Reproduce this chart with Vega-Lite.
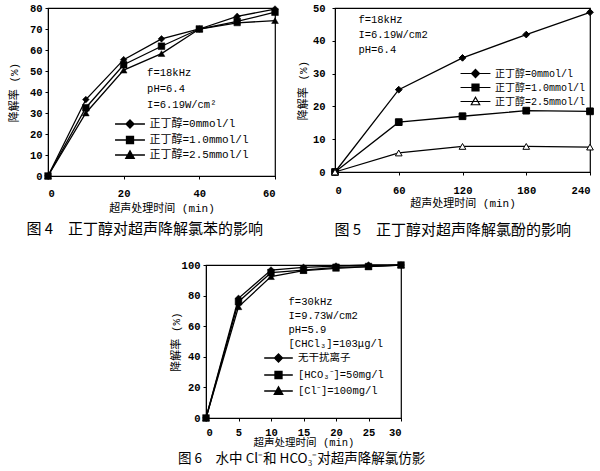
{
  "$schema": "https://vega.github.io/schema/vega-lite/v6.json",
  "background": "white",
  "padding": {"left": 7, "top": 2, "right": 0, "bottom": 0},
  "datasets": {
    "fig4": [
      {"t": 0, "v": 0, "s": "正丁醇=0mmol/l"},
      {"t": 10, "v": 36.4, "s": "正丁醇=0mmol/l"},
      {"t": 20, "v": 55.4, "s": "正丁醇=0mmol/l"},
      {"t": 30, "v": 65.3, "s": "正丁醇=0mmol/l"},
      {"t": 40, "v": 70, "s": "正丁醇=0mmol/l"},
      {"t": 50, "v": 76, "s": "正丁醇=0mmol/l"},
      {"t": 60, "v": 79.5, "s": "正丁醇=0mmol/l"},
      {"t": 0, "v": 0, "s": "正丁醇=1.0mmol/l"},
      {"t": 10, "v": 32.5, "s": "正丁醇=1.0mmol/l"},
      {"t": 20, "v": 53, "s": "正丁醇=1.0mmol/l"},
      {"t": 30, "v": 61.8, "s": "正丁醇=1.0mmol/l"},
      {"t": 40, "v": 70, "s": "正丁醇=1.0mmol/l"},
      {"t": 50, "v": 73.6, "s": "正丁醇=1.0mmol/l"},
      {"t": 60, "v": 78, "s": "正丁醇=1.0mmol/l"},
      {"t": 0, "v": 0, "s": "正丁醇=2.5mmol/l"},
      {"t": 10, "v": 30, "s": "正丁醇=2.5mmol/l"},
      {"t": 20, "v": 50.4, "s": "正丁醇=2.5mmol/l"},
      {"t": 30, "v": 58.3, "s": "正丁醇=2.5mmol/l"},
      {"t": 40, "v": 70, "s": "正丁醇=2.5mmol/l"},
      {"t": 50, "v": 72.9, "s": "正丁醇=2.5mmol/l"},
      {"t": 60, "v": 74, "s": "正丁醇=2.5mmol/l"}
    ],
    "ann4": [
      {"x": 26.2, "y": 48.9, "label": "f=18kHz"},
      {"x": 26.2, "y": 41.6, "label": "pH=6.4"},
      {"x": 26.2, "y": 33.9, "label": "I=6.19W/cm²"}
    ],
    "fig5": [
      {"t": 0, "v": 0, "s": "正丁醇=0mmol/l"},
      {"t": 60, "v": 25.1, "s": "正丁醇=0mmol/l"},
      {"t": 120, "v": 34.8, "s": "正丁醇=0mmol/l"},
      {"t": 180, "v": 41.9, "s": "正丁醇=0mmol/l"},
      {"t": 240, "v": 48.7, "s": "正丁醇=0mmol/l"},
      {"t": 0, "v": 0, "s": "正丁醇=1.0mmol/l"},
      {"t": 60, "v": 15.2, "s": "正丁醇=1.0mmol/l"},
      {"t": 120, "v": 17, "s": "正丁醇=1.0mmol/l"},
      {"t": 180, "v": 18.7, "s": "正丁醇=1.0mmol/l"},
      {"t": 240, "v": 18.5, "s": "正丁醇=1.0mmol/l"},
      {"t": 0, "v": 0, "s": "正丁醇=2.5mmol/l"},
      {"t": 60, "v": 5.8, "s": "正丁醇=2.5mmol/l"},
      {"t": 120, "v": 7.8, "s": "正丁醇=2.5mmol/l"},
      {"t": 180, "v": 7.8, "s": "正丁醇=2.5mmol/l"},
      {"t": 240, "v": 7.6, "s": "正丁醇=2.5mmol/l"}
    ],
    "ann5": [
      {"x": 22, "y": 46.3, "label": "f=18kHz"},
      {"x": 22, "y": 41.8, "label": "I=6.19W/cm2"},
      {"x": 22, "y": 37.2, "label": "pH=6.4"}
    ],
    "fig6": [
      {"t": 0, "v": 0, "s": "无干扰离子"},
      {"t": 5, "v": 78.2, "s": "无干扰离子"},
      {"t": 10, "v": 96.7, "s": "无干扰离子"},
      {"t": 15, "v": 98.5, "s": "无干扰离子"},
      {"t": 20, "v": 99.3, "s": "无干扰离子"},
      {"t": 25, "v": 100, "s": "无干扰离子"},
      {"t": 30, "v": 100, "s": "无干扰离子"},
      {"t": 0, "v": 0, "s": "[HCO₃⁻]=50mg/l"},
      {"t": 5, "v": 76, "s": "[HCO₃⁻]=50mg/l"},
      {"t": 10, "v": 95, "s": "[HCO₃⁻]=50mg/l"},
      {"t": 15, "v": 96.7, "s": "[HCO₃⁻]=50mg/l"},
      {"t": 20, "v": 98.5, "s": "[HCO₃⁻]=50mg/l"},
      {"t": 25, "v": 99, "s": "[HCO₃⁻]=50mg/l"},
      {"t": 30, "v": 100, "s": "[HCO₃⁻]=50mg/l"},
      {"t": 0, "v": 0, "s": "[Cl⁻]=100mg/l"},
      {"t": 5, "v": 72.7, "s": "[Cl⁻]=100mg/l"},
      {"t": 10, "v": 92.4, "s": "[Cl⁻]=100mg/l"},
      {"t": 15, "v": 96.3, "s": "[Cl⁻]=100mg/l"},
      {"t": 20, "v": 97.8, "s": "[Cl⁻]=100mg/l"},
      {"t": 25, "v": 99, "s": "[Cl⁻]=100mg/l"},
      {"t": 30, "v": 100, "s": "[Cl⁻]=100mg/l"}
    ],
    "ann6": [
      {"x": 12.7, "y": 75.8, "label": "f=30kHz"},
      {"x": 12.7, "y": 66.7, "label": "I=9.73W/cm2"},
      {"x": 12.7, "y": 57.5, "label": "pH=5.9"},
      {"x": 12.7, "y": 48.4, "label": "[CHCl₃]=103μg/l"}
    ]
  },
  "config": {
    "view": {"stroke": "black", "strokeWidth": 1.2},
    "axis": {
      "grid": false, "domainColor": "black", "tickColor": "black", "tickSize": 3,
      "labelFont": "Liberation Mono", "labelFontSize": 10.5, "labelFontWeight": "bold", "labelColor": "black",
      "titleFont": "Liberation Mono, Noto Sans CJK SC", "titleFontSize": 11, "titleFontWeight": "normal", "titleColor": "black",
      "labelPadding": 3
    },
    "axisX": {"labelPadding": 9, "titlePadding": 4},
    "legend": {
      "orient": "none", "padding": 0, "title": null,
      "labelFont": "Liberation Mono, Noto Sans CJK SC", "labelFontSize": 11, "labelColor": "black",
      "symbolSize": 169, "symbolStrokeWidth": 1.3, "symbolStrokeColor": "black"
    },
    "title": {"font": "Noto Sans CJK SC", "fontSize": 15, "fontWeight": "normal", "color": "black", "orient": "bottom", "anchor": "start"},
    "text": {"font": "Liberation Mono", "fontSize": 10.5, "align": "left", "baseline": "middle", "color": "black"}
  },
  "resolve": {"scale": {"shape": "independent", "stroke": "independent", "fill": "independent"}, "legend": {"stroke": "independent"}},
  "spacing": 20,
  "vconcat": [
    {
      "spacing": 16,
      "resolve": {"scale": {"shape": "independent", "stroke": "independent", "fill": "independent"}, "legend": {"stroke": "independent"}},
      "hconcat": [
        {
          "width": 227, "height": 168,
          "title": {"text": "图 4　正丁醇对超声降解氯苯的影响", "dx": 18, "offset": 8},
          "layer": [
            {
              "data": {"name": "fig4"},
              "mark": {"type": "line", "strokeWidth": 1.3},
              "encoding": {
                "x": {"field": "t", "type": "quantitative", "scale": {"domain": [0, 60], "nice": false}, "axis": {"values": [0, 20, 40, 60], "tickCount": 20, "labelOverlap": false, "title": "超声处理时间 (min)"}},
                "y": {"field": "v", "type": "quantitative", "scale": {"domain": [0, 80], "nice": false}, "axis": {"values": [0, 10, 20, 30, 40, 50, 60, 70, 80], "tickCount": 20, "labelOverlap": false, "title": "降解率 (%)", "titlePadding": 10}},
                "stroke": {
                  "field": "s", "type": "nominal",
                  "scale": {"domain": ["正丁醇=0mmol/l", "正丁醇=1.0mmol/l", "正丁醇=2.5mmol/l"], "range": ["black", "black", "black"]},
                  "legend": {
                    "legendX": 74.5, "legendY": 108.5, "labelOffset": 12, "rowPadding": 1,
                    "symbolType": "M-2.3,0H2.3",
                    "encode": {"symbols": {"update": {
                      "shape": {"signal": "datum.value === '正丁醇=0mmol/l' ? 'M-2.3,0H2.3M0,-0.62L0.62,0L0,0.62L-0.62,0Z' : datum.value === '正丁醇=1.0mmol/l' ? 'M-2.3,0H2.3M-0.54,-0.54H0.54V0.54H-0.54Z' : 'M-2.3,0H2.3M0,-0.65L0.65,0.5H-0.65Z'"},
                      "fill": {"value": "black"}, "strokeWidth": {"value": 1.3}
                    }}}
                  }
                }
              }
            },
            {
              "data": {"name": "fig4"},
              "mark": {"type": "point", "filled": true, "color": "black", "stroke": "black", "strokeWidth": 0.5, "size": 45, "opacity": 1},
              "encoding": {
                "x": {"field": "t", "type": "quantitative"},
                "y": {"field": "v", "type": "quantitative"},
                "shape": {
                  "field": "s", "type": "nominal", "legend": null,
                  "scale": {"domain": ["正丁醇=2.5mmol/l", "正丁醇=1.0mmol/l", "正丁醇=0mmol/l"], "range": ["triangle-up", "square", "diamond"]}
                }
              }
            },
            {
              "data": {"name": "ann4"},
              "mark": {"type": "text"},
              "encoding": {
                "x": {"field": "x", "type": "quantitative"},
                "y": {"field": "y", "type": "quantitative"},
                "text": {"field": "label"}
              }
            }
          ]
        },
        {
          "width": 255, "height": 164,
          "title": {"text": "图 5　正丁醇对超声降解氯酚的影响", "dx": 37, "offset": 14},
          "layer": [
            {
              "data": {"name": "fig5"},
              "mark": {"type": "line", "strokeWidth": 1.3},
              "encoding": {
                "x": {"field": "t", "type": "quantitative", "scale": {"domain": [0, 240], "nice": false}, "axis": {"values": [0, 60, 120, 180, 240], "tickCount": 20, "labelOverlap": false, "title": "超声处理时间 (min)", "labelPadding": 10, "titlePadding": 2}},
                "y": {"field": "v", "type": "quantitative", "scale": {"domain": [0, 50], "nice": false}, "axis": {"values": [0, 10, 20, 30, 40, 50], "tickCount": 20, "labelOverlap": false, "title": "降解率 (%)", "titlePadding": 4, "labelPadding": 7}},
                "stroke": {
                  "field": "s", "type": "nominal",
                  "scale": {"domain": ["正丁醇=0mmol/l", "正丁醇=1.0mmol/l", "正丁醇=2.5mmol/l"], "range": ["black", "black", "black"]},
                  "legend": {
                    "legendX": 133, "legendY": 58, "labelOffset": 12, "rowPadding": -1.5, "labelFontSize": 10,
                    "symbolType": "M-2.3,0H2.3",
                    "encode": {"symbols": {"update": {
                      "shape": {"signal": "datum.value === '正丁醇=0mmol/l' ? 'M-2.3,0H2.3M0,-0.62L0.62,0L0,0.62L-0.62,0Z' : datum.value === '正丁醇=1.0mmol/l' ? 'M-2.3,0H2.3M-0.54,-0.54H0.54V0.54H-0.54Z' : 'M-2.3,0H2.3M0,-0.65L0.65,0.5H-0.65Z'"},
                      "fill": {"signal": "datum.value === '正丁醇=2.5mmol/l' ? 'white' : 'black'"}, "strokeWidth": {"value": 1.2}
                    }}}
                  }
                }
              }
            },
            {
              "data": {"name": "fig5"},
              "mark": {"type": "point", "filled": true, "stroke": "black", "strokeWidth": 1, "size": 45, "opacity": 1},
              "encoding": {
                "x": {"field": "t", "type": "quantitative"},
                "y": {"field": "v", "type": "quantitative"},
                "shape": {
                  "field": "s", "type": "nominal", "legend": null,
                  "scale": {"domain": ["正丁醇=2.5mmol/l", "正丁醇=1.0mmol/l", "正丁醇=0mmol/l"], "range": ["triangle-up", "square", "diamond"]}
                },
                "fill": {
                  "field": "s", "type": "nominal", "legend": null,
                  "scale": {"domain": ["正丁醇=1.0mmol/l", "正丁醇=2.5mmol/l", "正丁醇=0mmol/l"], "range": ["black", "white", "black"]}
                }
              }
            },
            {
              "data": {"name": "ann5"},
              "mark": {"type": "text"},
              "encoding": {
                "x": {"field": "x", "type": "quantitative"},
                "y": {"field": "y", "type": "quantitative"},
                "text": {"field": "label"}
              }
            }
          ]
        }
      ]
    },
    {
      "spacing": 0,
      "resolve": {"scale": {"shape": "independent", "stroke": "independent", "fill": "independent"}, "legend": {"stroke": "independent"}},
      "hconcat": [
        {
          "width": 121, "height": 10,
          "data": {"values": []},
          "mark": "point",
          "view": {"stroke": null}
        },
        {
          "width": 195, "height": 153,
          "title": {"text": "图 6　水中 Cl⁻和 HCO₃⁻对超声降解氯仿影", "dx": 8, "offset": 4, "fontSize": 13.5},
          "layer": [
            {
              "data": {"name": "fig6"},
              "mark": {"type": "line", "strokeWidth": 1.3},
              "encoding": {
                "x": {"field": "t", "type": "quantitative", "scale": {"domain": [0, 30], "nice": false}, "axis": {"values": [0, 5, 10, 15, 20, 25, 30], "tickCount": 20, "labelOverlap": false, "title": "超声处理时间 (min)", "titlePadding": 0, "labelPadding": 6, "titleFontSize": 10.5}},
                "y": {"field": "v", "type": "quantitative", "scale": {"domain": [0, 100], "nice": false}, "axis": {"values": [0, 20, 40, 60, 80, 100], "tickCount": 20, "labelOverlap": false, "title": "降解率 (%)", "titlePadding": 0}},
                "stroke": {
                  "field": "s", "type": "nominal",
                  "scale": {"domain": ["无干扰离子", "[HCO₃⁻]=50mg/l", "[Cl⁻]=100mg/l"], "range": ["black", "black", "black"]},
                  "legend": {
                    "legendX": 65, "legendY": 85.5, "labelOffset": 12, "rowPadding": 2, "labelFontSize": 10.5,
                    "symbolType": "M-2.2,0H2.2",
                    "encode": {"symbols": {"update": {
                      "shape": {"signal": "datum.value === '无干扰离子' ? 'M-2.2,0H2.2M0,-0.62L0.62,0L0,0.62L-0.62,0Z' : datum.value === '[HCO₃⁻]=50mg/l' ? 'M-2.2,0H2.2M-0.54,-0.54H0.54V0.54H-0.54Z' : 'M-2.2,0H2.2M0,-0.65L0.65,0.5H-0.65Z'"},
                      "fill": {"value": "black"}, "strokeWidth": {"value": 1.3}
                    }}}
                  }
                }
              }
            },
            {
              "data": {"name": "fig6"},
              "mark": {"type": "point", "filled": true, "color": "black", "stroke": "black", "strokeWidth": 0.5, "size": 45, "opacity": 1},
              "encoding": {
                "x": {"field": "t", "type": "quantitative"},
                "y": {"field": "v", "type": "quantitative"},
                "shape": {
                  "field": "s", "type": "nominal", "legend": null,
                  "scale": {"domain": ["[Cl⁻]=100mg/l", "[HCO₃⁻]=50mg/l", "无干扰离子"], "range": ["triangle-up", "square", "diamond"]}
                }
              }
            },
            {
              "data": {"name": "ann6"},
              "mark": {"type": "text"},
              "encoding": {
                "x": {"field": "x", "type": "quantitative"},
                "y": {"field": "y", "type": "quantitative"},
                "text": {"field": "label"}
              }
            }
          ]
        }
      ]
    }
  ]
}
